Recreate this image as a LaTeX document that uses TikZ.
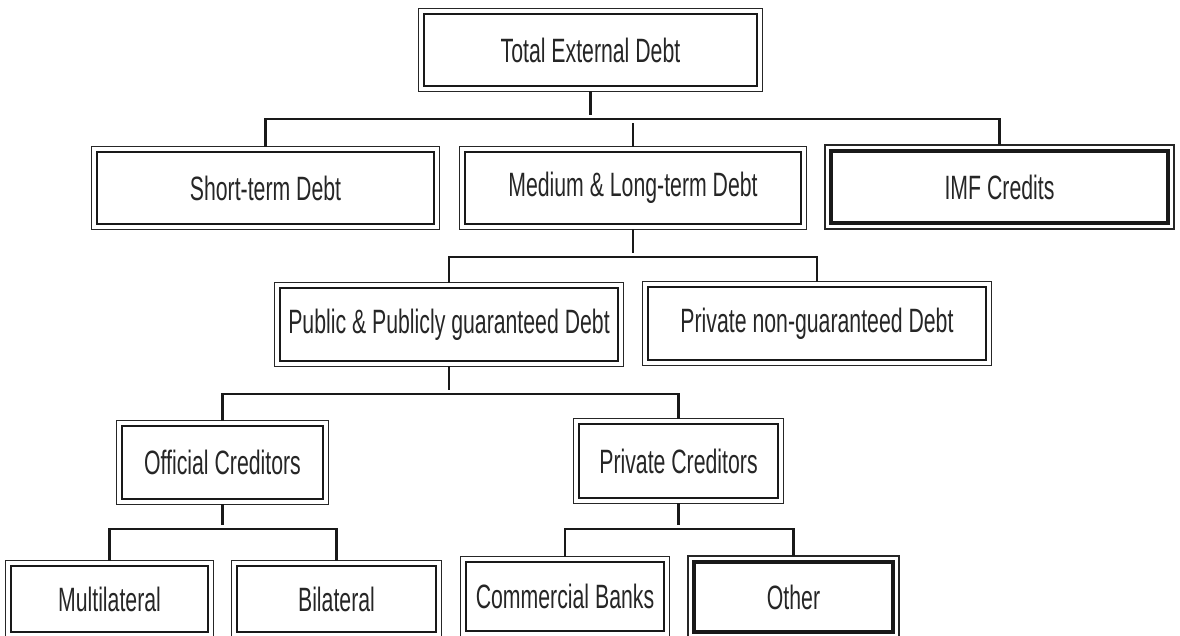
\documentclass[tikz,border=0pt]{standalone}
\usepackage{fontspec}
\setmainfont{Liberation Sans}[FakeStretch=0.63]
\tikzset{
  debtbox/.style 2 args={draw=black!90, line width=2.1pt, inner sep=0pt,
    minimum width=#1*0.025cm-0.2cm, minimum height=#2*0.025cm-0.2cm,
    font=\fontsize{24}{27}\selectfont, text=black!85},
  frame/.style={draw=black!85, line width=1pt},
  link/.style={draw=black!90, line width=1.6pt, shorten <=0.1cm, shorten >=0.1cm}
}
\begin{document}
\begin{tikzpicture}[x=0.025cm,y=-0.025cm]
  \useasboundingbox (0,0) rectangle (1180,636);
  % levels of the debt tree
  \node[debtbox={341}{80}] (ted) at (590.5,50) {Total External Debt};
  \node[debtbox={345}{80}] (short) at (265.5,188) {Short-term Debt};
  \node[debtbox={344}{80}] (medium) at (633,188) {Medium \& Long-term Debt};
  \node[debtbox={345}{80}, line width=2.7pt] (imf) at (999.5,187) {IMF Credits};
  \node[debtbox={346}{81}] (public) at (449,324.5) {Public \& Publicly guaranteed Debt};
  \node[debtbox={346}{81}] (privng) at (817,323.5) {Private non-guaranteed Debt};
  \node[debtbox={209}{81}] (official) at (222.5,462.5) {Official Creditors};
  \node[debtbox={207}{82}] (privcred) at (678.5,461) {Private Creditors};
  \node[debtbox={205}{74}] (multi) at (109.5,599) {Multilateral};
  \node[debtbox={207}{74}] (bilat) at (336.5,599) {Bilateral};
  \node[debtbox={206}{77}] (banks) at (565,596.5) {Commercial Banks};
  \node[debtbox={207}{78}, line width=2.7pt] (other) at (793.5,597) {Other};
  % thin outer frames
  \foreach \n in {ted,short,medium,imf,public,privng,official,privcred,multi,bilat,banks,other}
    \draw[frame] ([shift={(-4,4)}]\n.south west) rectangle ([shift={(4,-4)}]\n.north east);
  % connectors
  \coordinate (j1) at (590.5,119);
  \coordinate (j2) at (633,257);
  \coordinate (j3) at (449,394);
  \coordinate (j4) at (222.5,529);
  \coordinate (j5) at (678.5,529);
  \draw[link] (ted.south) -- (j1);
  \draw[link] (short.north) |- (j1) -| (imf.north);
  \draw[link] (medium.north) -- (medium.north |- j1);
  \draw[link] (medium.south) -- (j2);
  \draw[link] (public.north) |- (j2) -| (privng.north);
  \draw[link] (public.south) -- (j3);
  \draw[link] (official.north) |- (j3) -| (privcred.north);
  \draw[link] (official.south) -- (j4);
  \draw[link] (multi.north) |- (j4) -| (bilat.north);
  \draw[link] (privcred.south) -- (j5);
  \draw[link] (banks.north) |- (j5) -| (other.north);
\end{tikzpicture}
\end{document}
